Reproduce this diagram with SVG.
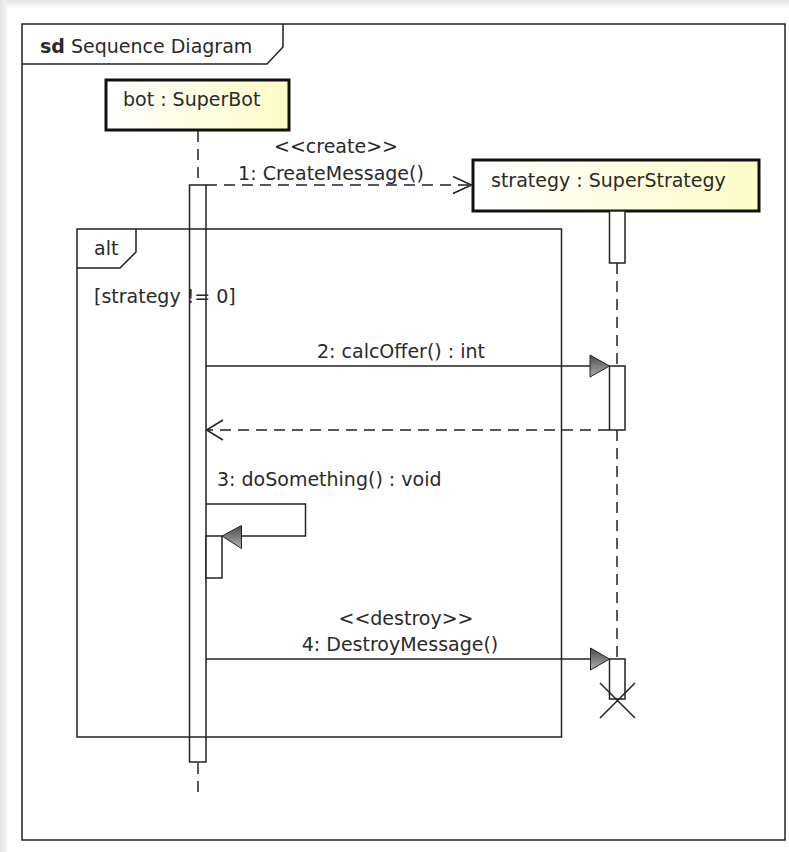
<svg xmlns="http://www.w3.org/2000/svg" width="789" height="852" viewBox="0 0 789 852">
  <defs>
    <linearGradient id="boxFill" x1="0" y1="0" x2="1" y2="0">
      <stop offset="0" stop-color="#ffffff"/>
      <stop offset="1" stop-color="#fcfcc6"/>
    </linearGradient>
    <linearGradient id="headFill" x1="0" y1="0" x2="0" y2="1">
      <stop offset="0" stop-color="#4a4a4a"/>
      <stop offset="1" stop-color="#b0b0b0"/>
    </linearGradient>
    <linearGradient id="topShade" x1="0" y1="0" x2="0" y2="1">
      <stop offset="0" stop-color="#e6e6e6"/>
      <stop offset="1" stop-color="#ffffff"/>
    </linearGradient>
    <linearGradient id="leftShade" x1="0" y1="0" x2="1" y2="0">
      <stop offset="0" stop-color="#e6e6e6"/>
      <stop offset="1" stop-color="#f4f4f4"/>
    </linearGradient>
    <style>
      text { font-family: "DejaVu Sans", Verdana, sans-serif; font-size: 19px; fill: #2a2a2a; }
      .ln { stroke: #222; stroke-width: 1.5; fill: none; }
      .dash { stroke: #222; stroke-width: 1.5; fill: none; stroke-dasharray: 11 7; }
      .act { stroke: #222; stroke-width: 1.5; fill: #fff; }
      .box { stroke: #111; stroke-width: 3; fill: url(#boxFill); }
      .head { stroke: #222; stroke-width: 1; fill: url(#headFill); }
      .frame { stroke: #222; stroke-width: 1.5; fill: none; }
    </style>
  </defs>

  <rect x="0" y="0" width="789" height="852" fill="#ffffff"/>
  <rect x="0" y="0" width="789" height="9" fill="url(#topShade)"/>
  <rect x="0" y="0" width="7" height="852" fill="url(#leftShade)"/>

  <g id="frame-sd">
    <rect class="frame" x="22" y="24" width="763" height="816"/>
    <path class="frame" d="M22 64 H267 L283 47 V24"/>
    <text x="40" y="53"><tspan font-weight="bold">sd</tspan> Sequence Diagram</text>
  </g>

  <g id="lifeline-bot">
    <line class="dash" x1="198" y1="131" x2="198" y2="185"/>
    <line class="dash" x1="198" y1="763" x2="198" y2="795"/>
    <rect class="box" x="106" y="80" width="183" height="50"/>
    <text x="123" y="106">bot : SuperBot</text>
    <rect class="act" x="189.5" y="185" width="16.5" height="577"/>
    <rect class="act" x="206" y="536" width="16" height="42"/>
  </g>

  <g id="lifeline-strategy">
    <line class="dash" x1="617" y1="263" x2="617" y2="366"/>
    <line class="dash" x1="617" y1="430" x2="617" y2="659"/>
    <rect class="box" x="473" y="160" width="286" height="51"/>
    <text x="491" y="187">strategy : SuperStrategy</text>
    <rect class="act" x="609.5" y="211" width="15.5" height="52"/>
    <rect class="act" x="609.5" y="366" width="15.5" height="64"/>
    <rect class="act" x="609.5" y="659" width="15.5" height="40"/>
    <path class="ln" d="M600 683 L635 718 M635 683 L600 718" stroke-width="2.5"/>
  </g>

  <g id="frame-alt">
    <rect class="frame" x="77" y="229" width="484.5" height="508"/>
    <path class="frame" d="M77 268 H120 L136 252 V229"/>
    <text x="94" y="255">alt</text>
    <text x="94" y="303">[strategy != 0]</text>
  </g>

  <g id="connectors">
    <!-- 1: create -->
    <line class="dash" x1="206" y1="185" x2="471" y2="185"/>
    <path class="ln" d="M453 176.5 L471.5 185 L453 193.5"/>
    <text x="336" y="153" text-anchor="middle">&lt;&lt;create&gt;&gt;</text>
    <text x="331" y="180" text-anchor="middle">1: CreateMessage()</text>

    <!-- 2: calcOffer -->
    <line class="ln" x1="206" y1="366" x2="592" y2="366"/>
    <path class="head" d="M590 355 L609.5 366 L590 377 Z"/>
    <text x="401" y="358" text-anchor="middle">2: calcOffer() : int</text>

    <!-- return -->
    <line class="dash" x1="609" y1="430" x2="207" y2="430"/>
    <path class="ln" d="M223 420 L206.5 430 L223 440"/>

    <!-- 3: self call -->
    <path class="ln" d="M206 504 H305.5 V536 H240"/>
    <path class="head" d="M241.5 525.5 L222 536 L241.5 548.5 Z"/>
    <text x="217" y="486">3: doSomething() : void</text>

    <!-- 4: destroy -->
    <line class="ln" x1="206" y1="659" x2="592" y2="659"/>
    <path class="head" d="M590.5 648 L609.5 659 L590.5 670 Z"/>
    <text x="406" y="625" text-anchor="middle">&lt;&lt;destroy&gt;&gt;</text>
    <text x="400" y="651" text-anchor="middle">4: DestroyMessage()</text>
  </g>
</svg>
